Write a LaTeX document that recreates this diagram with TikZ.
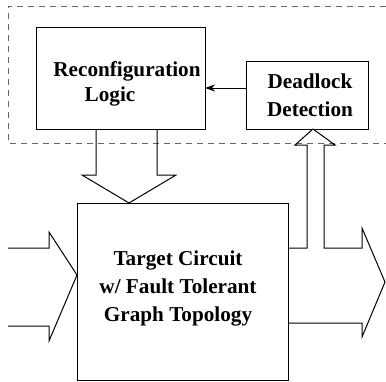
\documentclass[tikz,border=0pt]{standalone}
\usepackage{fontspec}
\setmainfont{Liberation Serif}
\usetikzlibrary{arrows.meta,calc}
\begin{document}
\begin{tikzpicture}[x=1pt,y=-1pt,
  box/.style={draw=black,line width=1pt,rectangle,inner sep=0pt,outer sep=0pt},
  lbl/.style={anchor=base,inner sep=0pt,font=\fontsize{21.2}{27}\selectfont\bfseries},
  blk/.style={draw=black,line width=1pt,line join=miter},
  frame/.style={draw=black!60,line width=0.9pt,dash pattern=on 6pt off 5pt}]
\useasboundingbox (0,0) rectangle (386,381);
% dashed region
\draw[frame] (386,6) -- (8,6) -- (8,143) -- (386,143);
% boxes
\node[box,minimum width=169pt,minimum height=102pt] (recon) at (120.5,78) {};
\node[box,minimum width=122pt,minimum height=68pt] (dead) at (307,95) {};
\node[box,minimum width=211pt,minimum height=177pt] (target) at (182.5,291.5) {};
% labels
\node[lbl] (t1) at (127,76) {Reconfiguration};
\node[lbl] (t2) at (110,101) {Logic};
\node[lbl] (t3) at (310,88) {Deadlock};
\node[lbl] (t4) at (310,116) {Detection};
\node[lbl] (t5) at (178,265) {Target Circuit};
\node[lbl] (t6) at (178,293) {w/ Fault Tolerant};
\node[lbl] (t7) at (178,321) {Graph Topology};
% thin arrow
\coordinate (da) at (dead.west |- 0,88);
\draw[line width=1pt,-{Stealth[length=10pt,width=7pt,inset=3pt]}] (da) -- (recon.east |- da);
% down block arrow from recon to target
\draw[blk] (96,129) -- (96,175) -- (82,175) -- (target.north -| 129,0) -- (176,175) -- (157,175) -- (157,129);
% left input block arrow
\draw[blk] (8,248) -- (49,248) -- (49,232) -- (target.west |- 0,275) -- (49,341) -- (49,326) -- (8,326);
% output block arrow with branch up to deadlock detection
\draw[blk] (target.east |- 0,248) -- (307,248) -- (307,145) -- (295,145) -- (dead.south -| 313,0)
  -- (335,145) -- (324,145) -- (324,248) -- (362,248) -- (362,228) -- (385,282)
  -- (362,337) -- (362,323) -- (target.east |- 0,323);
\end{tikzpicture}
\end{document}
